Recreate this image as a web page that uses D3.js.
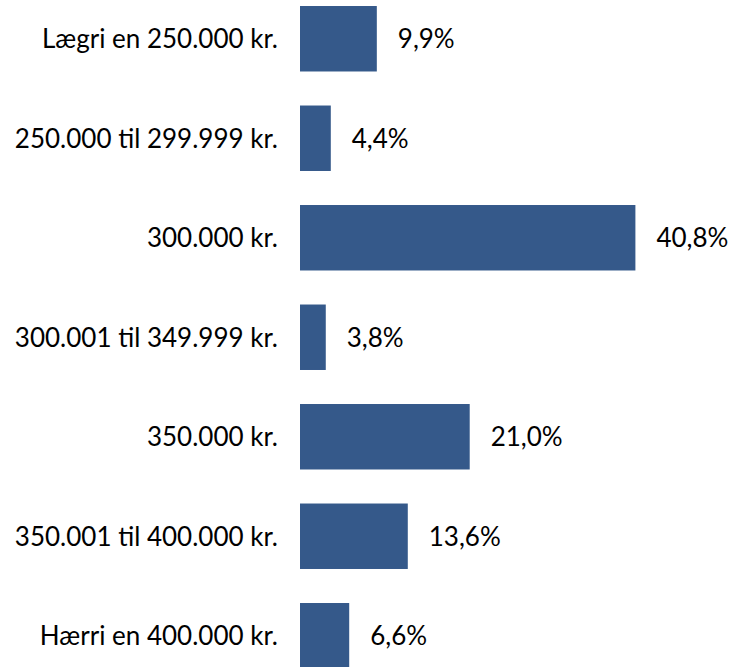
<!DOCTYPE html>
<html><head><meta charset="utf-8">
<script src="https://cdn.jsdelivr.net/npm/d3@7"></script>
<style>
html,body{margin:0;padding:0;background:#fff;overflow:hidden}
text{font-family:Lato,"Open Sans",sans-serif;fill:#000}
</style></head><body>
<svg id="c" width="730" height="667"></svg>
<script>
const categories = ["Lægri en 250.000 kr.","250.000 til 299.999 kr.","300.000 kr.","300.001 til 349.999 kr.","350.000 kr.","350.001 til 400.000 kr.","Hærri en 400.000 kr."];
const values = [9.9, 4.4, 40.8, 3.8, 21.0, 13.6, 6.6];

const svg = d3.select("#c");
const fontSize = 26;
const y = d3.scaleBand().domain(categories).range([-11, 685.5]).paddingInner(0.342).paddingOuter(0.171);
const x = d3.scaleLinear().domain([0.72, 40.8]).range([300, 635.4]);
const loc = d3.formatLocale({decimal:",", thousands:".", grouping:[3], currency:["","kr."]});
const fmt = v => loc.format(".1f")(v) + "%";

svg.selectAll("rect.bar").data(values).join("rect")
  .attr("class","bar")
  .attr("x", x.range()[0])
  .attr("y", (d,i)=>y(categories[i]))
  .attr("width", d=>x(d)-x.range()[0])
  .attr("height", y.bandwidth())
  .attr("fill", "#35598a");

svg.selectAll("text.val").data(values).join("text")
  .attr("class","val")
  .attr("x", d=>x(d)+21)
  .attr("y", (d,i)=>y(categories[i])+y.bandwidth()/2)
  .attr("dy","0.37em")
  .style("font-size", fontSize+"px")
  .text(fmt);

const yAxis = d3.axisLeft(y).tickSize(0).tickPadding(0);
const g = svg.append("g").attr("transform","translate(278,0)").call(yAxis);
g.select(".domain").remove();
g.selectAll("text").attr("dy","0.37em").style("font-size", fontSize+"px").attr("fill","#000").style("font-family","Lato,'Open Sans',sans-serif");
</script></body></html>
